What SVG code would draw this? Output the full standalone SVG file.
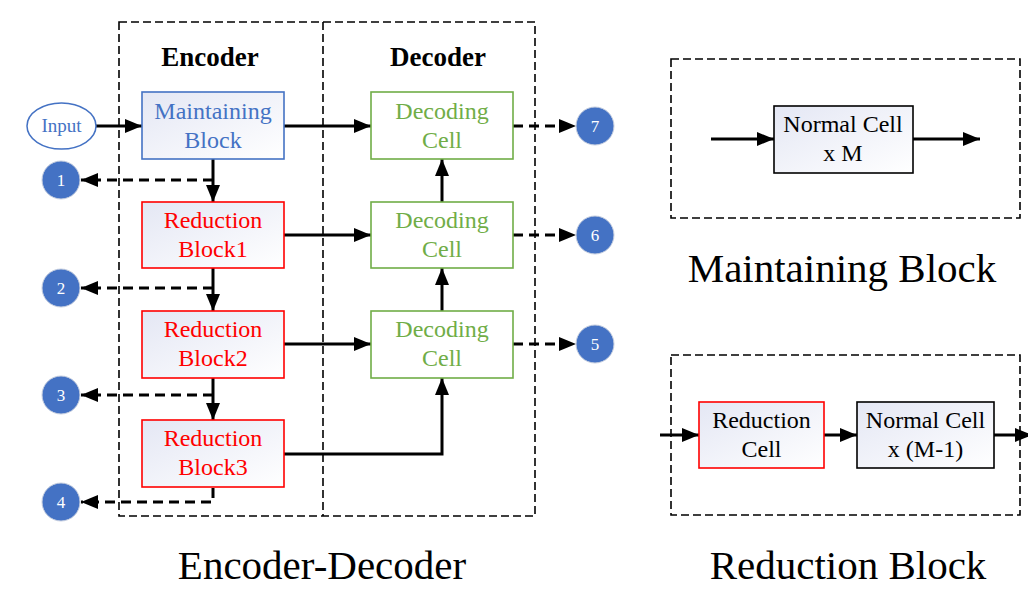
<svg xmlns="http://www.w3.org/2000/svg" width="1028" height="605" viewBox="0 0 1028 605">
<style>
.t{font-family:"Liberation Serif","Times New Roman",serif;text-anchor:middle}
.box{stroke-width:1.6}
.ln{stroke:#000;stroke-width:3;fill:none}
.dl{stroke:#000;stroke-width:3;fill:none;stroke-dasharray:10,6}
.frame{stroke:#000;stroke-width:1.6;fill:none;stroke-dasharray:8,4}
.num{fill:#4472C4;stroke:#c8d0e0;stroke-width:1}
</style>
<defs>
<linearGradient id="g" x1="0" y1="0" x2="1" y2="1">
<stop offset="0" stop-color="#e4e7f4"/>
<stop offset="1" stop-color="#ffffff"/>
</linearGradient>
<marker id="ah" markerUnits="userSpaceOnUse" markerWidth="18" markerHeight="18" viewBox="0 0 18 18" refX="17" refY="9" orient="auto">
<path d="M0,2 L17,9 L0,16 Z" fill="#000"/>
</marker>
</defs>

<!-- frames -->
<rect class="frame" x="119" y="22" width="416" height="494"/>
<line class="frame" x1="323" y1="22" x2="323" y2="516"/>
<rect class="frame" x="671" y="59" width="349" height="159"/>
<rect class="frame" x="671" y="355" width="349" height="160"/>

<text class="t" x="210" y="66" font-size="27" font-weight="bold">Encoder</text>
<text class="t" x="438" y="66" font-size="27" font-weight="bold">Decoder</text>

<g id="connectors">
<line class="ln" x1="96" y1="126" x2="142" y2="126" marker-end="url(#ah)"/>
<line class="ln" x1="213" y1="159" x2="213" y2="202" marker-end="url(#ah)"/>
<line class="ln" x1="213" y1="268" x2="213" y2="311" marker-end="url(#ah)"/>
<line class="ln" x1="213" y1="378" x2="213" y2="420" marker-end="url(#ah)"/>
<line class="dl" x1="213" y1="180" x2="81" y2="180" marker-end="url(#ah)"/>
<line class="dl" x1="213" y1="288" x2="81" y2="288" marker-end="url(#ah)"/>
<line class="dl" x1="213" y1="395" x2="81" y2="395" marker-end="url(#ah)"/>
<path class="dl" d="M213,488 V502 H81" marker-end="url(#ah)"/>
<line class="ln" x1="284" y1="126" x2="371" y2="126" marker-end="url(#ah)"/>
<line class="ln" x1="284" y1="235" x2="371" y2="235" marker-end="url(#ah)"/>
<line class="ln" x1="284" y1="344" x2="371" y2="344" marker-end="url(#ah)"/>
<path class="ln" d="M284,454 H442 V378" marker-end="url(#ah)"/>
<line class="ln" x1="442" y1="202" x2="442" y2="159" marker-end="url(#ah)"/>
<line class="ln" x1="442" y1="311" x2="442" y2="268" marker-end="url(#ah)"/>
<line class="dl" x1="513" y1="126" x2="576" y2="126" marker-end="url(#ah)"/>
<line class="dl" x1="513" y1="235" x2="576" y2="235" marker-end="url(#ah)"/>
<line class="dl" x1="513" y1="344" x2="576" y2="344" marker-end="url(#ah)"/>
<line class="ln" x1="711" y1="139" x2="774" y2="139" marker-end="url(#ah)"/>
<line class="ln" x1="913" y1="139" x2="980" y2="139" marker-end="url(#ah)"/>
<line class="ln" x1="660" y1="435" x2="699" y2="435" marker-end="url(#ah)"/>
<line class="ln" x1="824" y1="435" x2="857" y2="435" marker-end="url(#ah)"/>
<line class="ln" x1="994" y1="435" x2="1032" y2="435" marker-end="url(#ah)"/>
</g>

<g id="input">
<ellipse cx="61.5" cy="126" rx="34.5" ry="23" fill="#fff" stroke="#4472C4" stroke-width="1.5"/>
<text class="t" x="61.5" y="132" font-size="19" fill="#4472C4">Input</text>
</g>

<g id="maintaining">
<rect class="box" x="142" y="92" width="142" height="67" fill="url(#g)" stroke="#4472C4"/>
<text class="t" x="213" y="119" font-size="24" fill="#4472C4">Maintaining</text>
<text class="t" x="213" y="148" font-size="24" fill="#4472C4">Block</text>
</g>
<g id="red1">
<rect class="box" x="142" y="202" width="142" height="66" fill="url(#g)" stroke="#ff0000"/>
<text class="t" x="213" y="228" font-size="24" fill="#ff0000">Reduction</text>
<text class="t" x="213" y="257" font-size="24" fill="#ff0000">Block1</text>
</g>
<g id="red2">
<rect class="box" x="142" y="311" width="142" height="67" fill="url(#g)" stroke="#ff0000"/>
<text class="t" x="213" y="337" font-size="24" fill="#ff0000">Reduction</text>
<text class="t" x="213" y="366" font-size="24" fill="#ff0000">Block2</text>
</g>
<g id="red3">
<rect class="box" x="142" y="420" width="142" height="67" fill="url(#g)" stroke="#ff0000"/>
<text class="t" x="213" y="446" font-size="24" fill="#ff0000">Reduction</text>
<text class="t" x="213" y="475" font-size="24" fill="#ff0000">Block3</text>
</g>

<g id="dec1">
<rect class="box" x="371" y="92" width="142" height="67" fill="#fff" stroke="#70AD47"/>
<text class="t" x="442" y="119" font-size="24" fill="#70AD47">Decoding</text>
<text class="t" x="442" y="148" font-size="24" fill="#70AD47">Cell</text>
</g>
<g id="dec2">
<rect class="box" x="371" y="202" width="142" height="66" fill="#fff" stroke="#70AD47"/>
<text class="t" x="442" y="228" font-size="24" fill="#70AD47">Decoding</text>
<text class="t" x="442" y="257" font-size="24" fill="#70AD47">Cell</text>
</g>
<g id="dec3">
<rect class="box" x="371" y="311" width="142" height="67" fill="#fff" stroke="#70AD47"/>
<text class="t" x="442" y="337" font-size="24" fill="#70AD47">Decoding</text>
<text class="t" x="442" y="366" font-size="24" fill="#70AD47">Cell</text>
</g>

<g id="c1"><circle class="num" cx="61" cy="180" r="19"/><text class="t" x="61" y="186" font-size="17" fill="#fff">1</text></g>
<g id="c2"><circle class="num" cx="61" cy="288" r="19"/><text class="t" x="61" y="294" font-size="17" fill="#fff">2</text></g>
<g id="c3"><circle class="num" cx="61" cy="395" r="19"/><text class="t" x="61" y="401" font-size="17" fill="#fff">3</text></g>
<g id="c4"><circle class="num" cx="61" cy="502" r="19"/><text class="t" x="61" y="508" font-size="17" fill="#fff">4</text></g>
<g id="c7"><circle class="num" cx="595" cy="126" r="19"/><text class="t" x="595" y="132" font-size="17" fill="#fff">7</text></g>
<g id="c6"><circle class="num" cx="595" cy="235" r="19"/><text class="t" x="595" y="241" font-size="17" fill="#fff">6</text></g>
<g id="c5"><circle class="num" cx="595" cy="344" r="19"/><text class="t" x="595" y="350" font-size="17" fill="#fff">5</text></g>

<g id="normalM">
<rect class="box" x="774" y="106" width="139" height="67" fill="url(#g)" stroke="#000"/>
<text class="t" x="843" y="132" font-size="24" fill="#000">Normal Cell</text>
<text class="t" x="843" y="161" font-size="24" fill="#000">x M</text>
</g>
<g id="redcell">
<rect class="box" x="699" y="402" width="125" height="66" fill="url(#g)" stroke="#ff0000"/>
<text class="t" x="761.5" y="428" font-size="24" fill="#000">Reduction</text>
<text class="t" x="761.5" y="457" font-size="24" fill="#000">Cell</text>
</g>
<g id="normalM1">
<rect class="box" x="857" y="402" width="137" height="66" fill="url(#g)" stroke="#000"/>
<text class="t" x="925.5" y="428" font-size="24" fill="#000">Normal Cell</text>
<text class="t" x="925.5" y="457" font-size="24" fill="#000">x (M-1)</text>
</g>

<text class="t" x="322" y="579" font-size="41" fill="#000">Encoder-Decoder</text>
<text class="t" x="842" y="282" font-size="41" fill="#000">Maintaining Block</text>
<text class="t" x="848" y="579" font-size="41" fill="#000">Reduction Block</text>
</svg>
